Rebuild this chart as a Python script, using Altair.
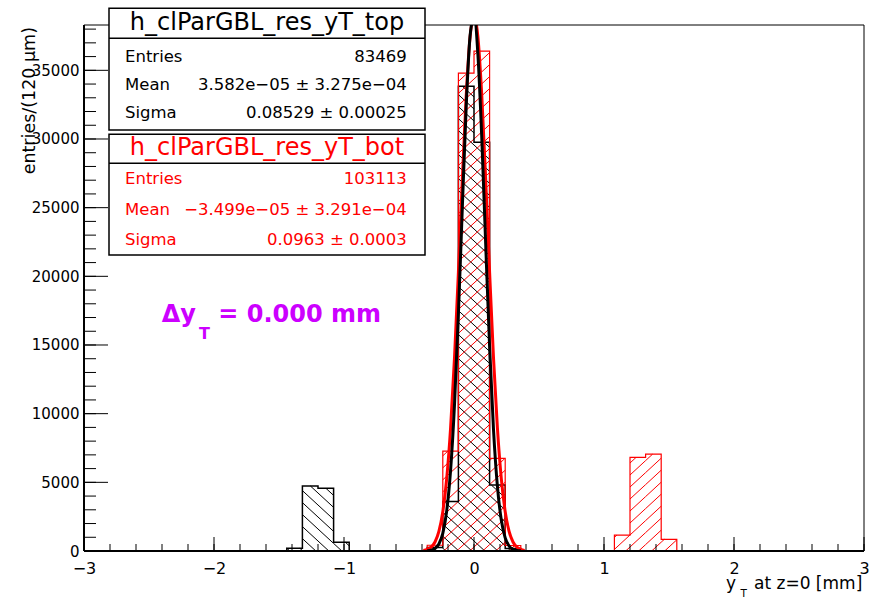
import math
import altair as alt
import numpy as np
import pandas as pd

# ---------------- data ----------------
BIN_WIDTH = 0.12
BIN_LEFT = [-1.56, -1.44, -1.32, -1.20, -1.08, -0.96, -0.84, -0.72, -0.60, -0.48,
            -0.36, -0.24, -0.12, 0.00, 0.12, 0.24, 0.36, 0.48, 0.60, 0.72,
            0.84, 0.96, 1.08, 1.20, 1.32, 1.44, 1.56]
TOP_COUNTS = [0, 200, 4730, 4560, 630, 0, 0, 0, 0, 0,
              250, 3600, 33840, 29770, 4800, 180, 0, 0, 0, 0,
              0, 0, 0, 0, 0, 0, 0]
BOT_COUNTS = [0, 0, 0, 0, 0, 0, 0, 0, 0, 0,
              420, 7270, 34800, 36400, 6740, 400, 0, 0, 0, 0,
              0, 0, 1160, 6810, 7050, 850, 0]

FIT_TOP_X = [-0.36, -0.33, -0.30, -0.27, -0.24, -0.21, -0.18, -0.15, -0.12, -0.09, -0.06, -0.03,
             0.00, 0.03, 0.06, 0.09, 0.12, 0.15, 0.18, 0.21, 0.24, 0.27, 0.30, 0.33, 0.36]
FIT_TOP_Y = [16, 57, 181, 511, 1290, 2914, 5890, 10650, 17240, 24970, 32370, 37520,
             38940, 36160, 30040, 22340, 14870, 8850, 4715, 2250, 960, 366, 125, 38, 10]
FIT_BOT_X = [-0.39, -0.36, -0.33, -0.30, -0.27, -0.24, -0.21, -0.18, -0.15, -0.12, -0.09, -0.06, -0.03,
             0.00, 0.03, 0.06, 0.09, 0.12, 0.15, 0.18, 0.21, 0.24, 0.27, 0.30, 0.33, 0.36, 0.39]
FIT_BOT_Y = [39, 109, 279, 658, 1430, 2862, 5278, 8975, 14060, 20300, 27010, 33130, 37440,
             39000, 37440, 33130, 27010, 20300, 14060, 8975, 5278, 2862, 1430, 658, 279, 109, 39]

Y_MAJOR = [0, 5000, 10000, 15000, 20000, 25000, 30000, 35000]
Y_MINOR = list(range(0, 38001, 1000))
X_MAJOR = [-3, -2, -1, 0, 1, 2, 3]
X_MINOR = [round(v, 1) for v in np.arange(-3.0, 3.001, 0.2)]

TOP_TITLE = "h_clParGBL_res_yT_top"
TOP_LABELS = ["Entries", "Mean", "Sigma"]
TOP_VALUES = ["83469", "3.582e\u221205 \u00b1 3.275e\u221204", "0.08529 \u00b1 0.00025"]
BOT_TITLE = "h_clParGBL_res_yT_bot"
BOT_LABELS = ["Entries", "Mean", "Sigma"]
BOT_VALUES = ["103113", "\u22123.499e\u221205 \u00b1 3.291e\u221204", "0.0963 \u00b1 0.0003"]

# ---------------- layout ----------------
XMIN, XMAX = -3.0, 3.0
YMAX = 38300
W, H = 780, 526
FONT = "DejaVu Sans"
RED = "#ff0000"
BLACK = "#000000"
MAGENTA = "#cc00ff"

xs = alt.Scale(domain=[XMIN, XMAX], nice=False, zero=False)
ys = alt.Scale(domain=[0, YMAX], nice=False, zero=True)
AX_X = alt.Axis(values=X_MAJOR, format="d", tickSize=0, domain=False, grid=False,
                labelFont=FONT, labelFontSize=16, labelColor=BLACK,
                labelPadding=9, title=None, labelFlush=False)
AX_Y = alt.Axis(values=Y_MAJOR, format="d", tickSize=0, domain=False, grid=False,
                labelFont=FONT, labelFontSize=15, labelColor=BLACK,
                labelPadding=5, title=None, labelFlush=False)


def X(field="x"):
    return alt.X(f"{field}:Q", scale=xs, axis=AX_X)


def Y(field="y"):
    return alt.Y(f"{field}:Q", scale=ys, axis=AX_Y)


def px(x):
    return (x - XMIN) / (XMAX - XMIN) * W


def py(y):
    return H * (1 - y / YMAX)


def ix(Xp):
    return XMIN + Xp / W * (XMAX - XMIN)


def iy(Yp):
    return (1 - Yp / H) * YMAX


def hatch(counts, direction, sx=13.0, sy=12.0, phase=0.0):
    segs = []
    a = direction / sx
    b = 1.0 / sy
    for l, c in zip(BIN_LEFT, counts):
        if c <= 0:
            continue
        X0, X1 = px(l), px(l + BIN_WIDTH)
        Yt, Yb = py(c), H
        vals = [a * xx + b * yy for xx in (X0, X1) for yy in (Yt, Yb)]
        for k in range(math.ceil(min(vals) - phase), math.floor(max(vals) - phase) + 1):
            kk = k + phase
            XA = (kk - b * Yt) / a
            XB = (kk - b * Yb) / a
            lo = max(X0, min(XA, XB))
            hi = min(X1, max(XA, XB))
            if hi - lo > 0.3:
                YA = (kk - a * lo) / b
                YB = (kk - a * hi) / b
                segs.append({"x": ix(lo), "y": iy(YA), "x2": ix(hi), "y2": iy(YB)})
    return pd.DataFrame(segs)


def step_df(counts):
    xs_ = [XMIN] + BIN_LEFT + [BIN_LEFT[-1] + BIN_WIDTH, XMAX]
    ys_ = [0] + counts + [0, 0]
    return pd.DataFrame({"x": xs_, "y": ys_})


def hatch_layer(df, color):
    return alt.Chart(df).mark_rule(color=color, strokeWidth=1).encode(
        x=X(), y=Y(), x2="x2:Q", y2="y2:Q")


def outline_layer(df, color, width=1.5):
    return alt.Chart(df).mark_line(color=color, strokeWidth=width, interpolate="step-after").encode(
        x=X(), y=Y(), order="x:Q")


def fit_layer(xv, yv, color):
    df = pd.DataFrame({"x": xv, "y": yv})
    return alt.Chart(df).mark_line(color=color, strokeWidth=3, interpolate="monotone", clip=True).encode(
        x=X(), y=Y(), order="x:Q")


ONE = alt.Data(values=[{"d": 0}])


def text_at(s, x, y, size, color=BLACK, align="left", weight="normal", baseline="alphabetic", angle=0):
    kw = dict(font=FONT, fontSize=size, color=color, align=align, fontWeight=weight, baseline=baseline)
    if angle:
        kw["angle"] = angle
    return alt.Chart(ONE).mark_text(**kw).encode(
        x=alt.value(x), y=alt.value(y), text=alt.value(s))


def box(x1, x2, y1, y2):
    return alt.Chart(ONE).mark_rect(fill="white", stroke=BLACK, strokeWidth=1.5).encode(
        x=alt.value(x1), x2=alt.value(x2), y=alt.value(y1), y2=alt.value(y2))


def hline(x1, x2, y, width=1.5, color=BLACK):
    return alt.Chart(ONE).mark_rule(color=color, strokeWidth=width).encode(
        x=alt.value(x1), x2=alt.value(x2), y=alt.value(y))


def vline(x, y1, y2, width=1.5, color=BLACK):
    return alt.Chart(ONE).mark_rule(color=color, strokeWidth=width).encode(
        x=alt.value(x), y=alt.value(y1), y2=alt.value(y2))


# ---------------- histogram layers ----------------
top_hatch = hatch_layer(hatch(TOP_COUNTS, -1, phase=0.0), BLACK)
bot_hatch = hatch_layer(hatch(BOT_COUNTS, +1, phase=0.5), RED)
top_line = outline_layer(step_df(TOP_COUNTS), BLACK, 1.5)
bot_line = outline_layer(step_df(BOT_COUNTS), RED, 1.2)
bot_fit = fit_layer(FIT_BOT_X, FIT_BOT_Y, RED)
top_fit = fit_layer(FIT_TOP_X, FIT_TOP_Y, BLACK)

# inward ticks
ymaj = alt.Chart(pd.DataFrame({"y": Y_MAJOR})).mark_rule(color=BLACK, strokeWidth=1).encode(
    y=Y(), x=alt.value(0), x2=alt.value(24))
ymin = alt.Chart(pd.DataFrame({"y": Y_MINOR})).mark_rule(color=BLACK, strokeWidth=1).encode(
    y=Y(), x=alt.value(0), x2=alt.value(12))
xmaj = alt.Chart(pd.DataFrame({"x": X_MAJOR})).mark_rule(color=BLACK, strokeWidth=1).encode(
    x=X(), y=alt.value(H), y2=alt.value(H - 14))
xmin = alt.Chart(pd.DataFrame({"x": X_MINOR})).mark_rule(color=BLACK, strokeWidth=1).encode(
    x=X(), y=alt.value(H), y2=alt.value(H - 7))

frame = alt.Chart(ONE).mark_rect(fill=None, stroke=BLACK, strokeWidth=1).encode(
    x=alt.value(0), x2=alt.value(W), y=alt.value(0), y2=alt.value(H))
bottom_axis = hline(0, W, H, width=2)
left_axis = vline(0, 0, H, width=2)

# ---------------- stat boxes ----------------
BX1, BX2 = 25, 341
stat_layers = [
    box(BX1, BX2, -16.7, 105), hline(BX1, BX2, 13.3),
    text_at(TOP_TITLE, 183, -1.7, 24, BLACK, align="center", baseline="middle"),
]
for lab, val, yy in zip(TOP_LABELS, TOP_VALUES, [31.7, 60, 88.3]):
    stat_layers.append(text_at(lab, 41, yy, 16.5, BLACK, baseline="middle"))
    stat_layers.append(text_at(val, 322.7, yy, 16.5, BLACK, align="right", baseline="middle"))
stat_layers += [
    box(BX1, BX2, 109.3, 230), hline(BX1, BX2, 138.3),
    text_at(BOT_TITLE, 183, 123.3, 24, RED, align="center", baseline="middle"),
]
for lab, val, yy in zip(BOT_LABELS, BOT_VALUES, [154, 185, 214.5]):
    stat_layers.append(text_at(lab, 41, yy, 16.5, RED, baseline="middle"))
    stat_layers.append(text_at(val, 322.7, yy, 16.5, RED, align="right", baseline="middle"))

# ---------------- annotation texts ----------------
notes = [
    text_at("\u0394y", 77.7, 297.3, 24, MAGENTA, weight="bold"),
    text_at("T", 115, 314, 16, MAGENTA, weight="bold"),
    text_at("= 0.000 mm", 134.3, 297.3, 24, MAGENTA, weight="bold"),
    text_at("y", 642, 564, 17, BLACK),
    text_at("T", 656.5, 572, 10.5, BLACK),
    text_at("at z=0 [mm]", 670, 564, 17, BLACK),
    text_at("entries/(120 \u00b5m)", -54, 2, 17.5, BLACK, align="right", baseline="middle", angle=270),
]

chart = alt.layer(
    top_hatch, bot_hatch, top_line, bot_line, bot_fit, top_fit,
    ymin, ymaj, xmin, xmaj, frame, bottom_axis, left_axis,
    *stat_layers, *notes,
).properties(
    width=W, height=H,
    padding={"left": 84, "top": 25, "right": 11, "bottom": 49},
    autosize=alt.AutoSizeParams(type="none"),
    background="white",
).configure_view(stroke=None)

chart.save("out.html", embed_options={"renderer": "svg", "actions": False})
